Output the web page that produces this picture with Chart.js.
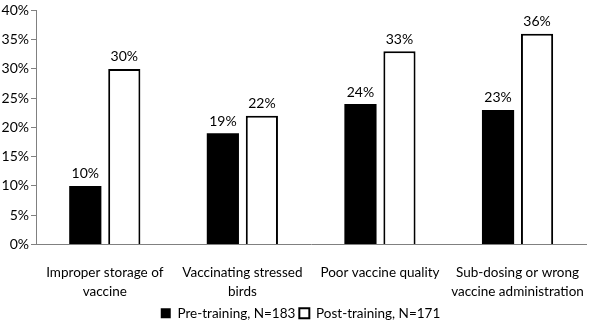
<!DOCTYPE html>
<html>
<head>
<meta charset="utf-8">
<script src="https://cdn.jsdelivr.net/npm/chart.js@4"></script>
<style>
  html, body { margin: 0; padding: 0; background: #fff; }
  #wrap { width: 602px; height: 321px; }
</style>
</head>
<body>
<div id="wrap"><canvas id="chart"></canvas></div>
<script>
// data
const categories = [
  ['Improper storage of', 'vaccine'],
  ['Vaccinating stressed', 'birds'],
  ['Poor vaccine quality'],
  ['Sub-dosing or wrong', 'vaccine administration']
];
const preTraining = [10, 19, 24, 23];
const postTraining = [30, 22, 33, 36];
const seriesNames = ['Pre-training, N=183', 'Post-training, N=171'];

const FONT = 'Lato, "Open Sans", sans-serif';

// draw value labels above each bar
const valueLabels = {
  id: 'valueLabels',
  afterDatasetsDraw(chart) {
    const ctx = chart.ctx;
    ctx.save();
    ctx.font = '14px ' + FONT;
    ctx.fillStyle = '#000';
    ctx.textAlign = 'center';
    ctx.textBaseline = 'bottom';
    chart.data.datasets.forEach((ds, i) => {
      chart.getDatasetMeta(i).data.forEach((bar, j) => {
        ctx.fillText(ds.data[j] + '%', bar.x, bar.y - 5);
      });
    });
    ctx.restore();
  }
};

const chart = new Chart(document.getElementById('chart'), {
  type: 'bar',
  data: {
    labels: categories,
    datasets: [{
      label: seriesNames[0],
      data: preTraining,
      backgroundColor: '#000',
      borderColor: '#000',
      borderWidth: 0,
      categoryPercentage: 0.567,
      barPercentage: 0.825
    }, {
      label: seriesNames[1],
      data: postTraining,
      backgroundColor: '#fff',
      borderColor: '#000',
      borderWidth: 2,
      categoryPercentage: 0.567,
      barPercentage: 0.825
    }]
  },
  options: {
    responsive: true,
    maintainAspectRatio: false,
    animation: false,
    layout: { padding: { top: 6, right: 1, left: 0, bottom: -9 } },
    scales: {
      x: {
        grid: { display: false, drawTicks: false },
        border: { color: '#808080', width: 1 },
        ticks: {
          color: '#000',
          font: { family: FONT, size: 13.5, lineHeight: 1.45 },
          padding: 18,
          maxRotation: 0,
          autoSkip: false
        },
        afterFit(scale) { scale.height = 58; }
      },
      y: {
        min: 0,
        max: 40,
        grid: { drawOnChartArea: false, tickLength: 5, color: '#808080' },
        border: { color: '#808080', width: 1 },
        ticks: {
          stepSize: 5,
          color: '#000',
          padding: 2,
          font: { family: FONT, size: 14 },
          callback: v => v + '%'
        },
        afterFit(scale) { scale.width = 36; }
      }
    },
    plugins: {
      legend: {
        position: 'bottom',
        labels: {
          color: '#000',
          font: { family: FONT, size: 13.5 },
          boxWidth: 10,
          boxHeight: 10,
          padding: 4
        }
      },
      tooltip: { enabled: false }
    }
  },
  plugins: [valueLabels]
});
</script>
</body>
</html>
